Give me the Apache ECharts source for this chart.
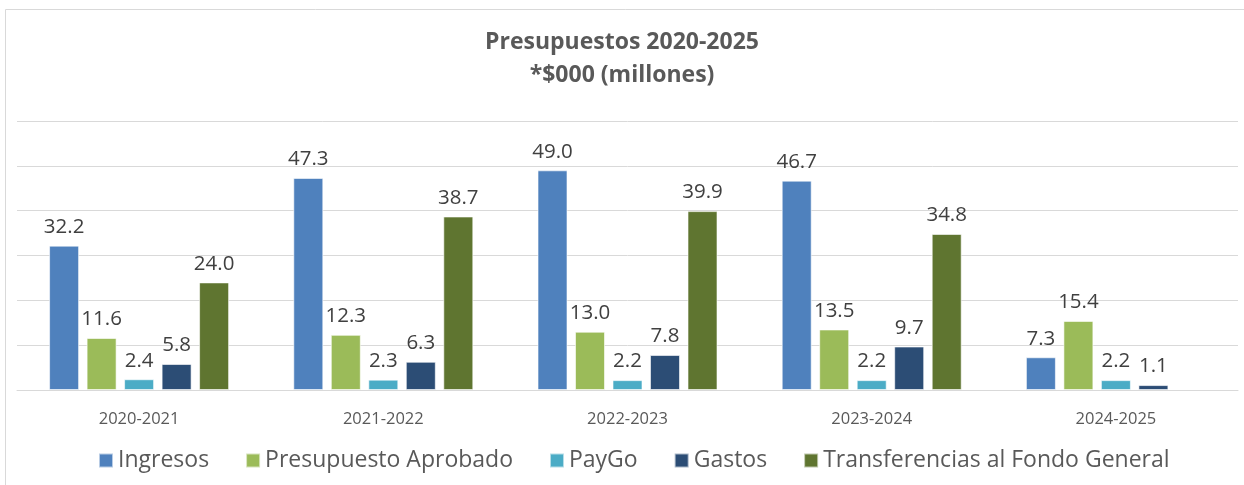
<!DOCTYPE html>
<html>
<head>
<meta charset="utf-8">
<script src="https://cdn.jsdelivr.net/npm/echarts@6/dist/echarts.min.js"></script>
<style>
html,body{margin:0;padding:0;background:#fff;}
#chart{width:1244px;height:485px;}
</style>
</head>
<body>
<div id="chart"></div>
<script>
const categories = ['2020-2021', '2021-2022', '2022-2023', '2023-2024', '2024-2025'];
const seriesNames = ['Ingresos', 'Presupuesto Aprobado', 'PayGo', 'Gastos', 'Transferencias al Fondo General'];
const ingresos = [32.2, 47.3, 49.0, 46.7, 7.3];
const presupuesto = [11.6, 12.3, 13.0, 13.5, 15.4];
const paygo = [2.4, 2.3, 2.2, 2.2, 2.2];
const gastos = [5.8, 6.3, 7.8, 9.7, 1.1];
const transferencias = [24.0, 38.7, 39.9, 34.8, null];
const colors = ['#4F81BD', '#9BBB59', '#4BACC6', '#2C4D75', '#5F7530'];

const font = '"Open Sans", Lato, sans-serif';
const allData = [ingresos, presupuesto, paygo, gastos, transferencias];

const chart = echarts.init(document.getElementById('chart'), null, {renderer: 'canvas'});
chart.setOption({
  animation: false,
  color: colors,
  graphic: [{
    type: 'rect', silent: true, z: -10,
    shape: {x: 5.5, y: 9.5, width: 1260, height: 500},
    style: {fill: 'none', stroke: '#d9d9d9', lineWidth: 1}
  }],
  title: {
    text: 'Presupuestos 2020-2025\n*$000 (millones)',
    left: 'center',
    top: 21,
    textStyle: {fontFamily: font, fontSize: 23, fontWeight: 'bold', color: '#595959', lineHeight: 33}
  },
  legend: {
    bottom: 8,
    left: 93,
    itemWidth: 14,
    itemHeight: 14,
    itemGap: 36,
    icon: 'rect',
    textStyle: {fontFamily: font, fontSize: 23, color: '#595959'},
    data: seriesNames
  },
  grid: {left: 17, right: 6, top: 121, bottom: 95, containLabel: false},
  xAxis: {
    type: 'category',
    data: categories,
    axisTick: {show: false},
    axisLine: {lineStyle: {color: '#d9d9d9', width: 1}},
    axisLabel: {fontFamily: font, fontSize: 16.5, color: '#595959', margin: 21}
  },
  yAxis: {
    type: 'value',
    min: 0, max: 60, interval: 10,
    axisLabel: {show: false},
    axisLine: {show: false},
    axisTick: {show: false},
    splitLine: {lineStyle: {color: '#d9d9d9', width: 1}}
  },
  series: seriesNames.map((name, i) => ({
    name: name,
    type: 'bar',
    data: allData[i],
    barWidth: 30,
    barGap: '25%',
    itemStyle: {borderColor: 'rgba(255,255,255,0.6)', borderWidth: 1},
    label: {
      show: true,
      position: 'top',
      distance: 8,
      fontFamily: font,
      fontSize: 20.5,
      color: '#404040',
      formatter: p => p.value == null ? '' : Number(p.value).toFixed(1)
    }
  }))
});
</script>
</body>
</html>
